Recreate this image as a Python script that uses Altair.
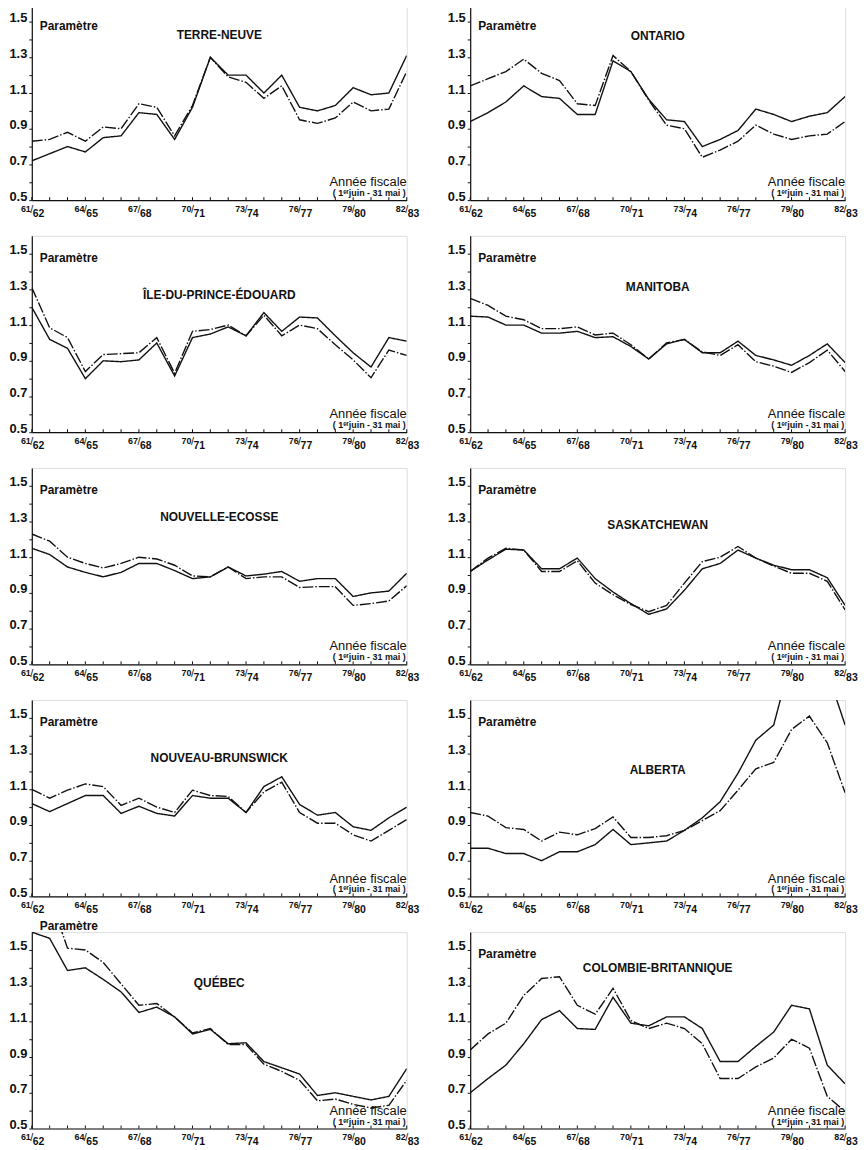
import altair as alt
import pandas as pd

# ---------------- data ----------------
annees = ["61/62", "62/63", "63/64", "64/65", "65/66", "66/67", "67/68", "68/69",
          "69/70", "70/71", "71/72", "72/73", "73/74", "74/75", "75/76", "76/77",
          "77/78", "78/79", "79/80", "80/81", "81/82", "82/83"]
etiquettes_x = ["61/62", "64/65", "67/68", "70/71", "73/74", "76/77", "79/80", "82/83"]
graduations_y = [0.5, 0.6, 0.7, 0.8, 0.9, 1.0, 1.1, 1.2, 1.3, 1.4, 1.5]

provinces = ["TERRE-NEUVE", "ONTARIO", "ÎLE-DU-PRINCE-ÉDOUARD", "MANITOBA",
             "NOUVELLE-ECOSSE", "SASKATCHEWAN", "NOUVEAU-BRUNSWICK", "ALBERTA",
             "QUÉBEC", "COLOMBIE-BRITANNIQUE"]

tn_plein = [0.72, 0.76, 0.80, 0.77, 0.85, 0.86, 0.99, 0.98, 0.84, 1.02, 1.30,
            1.20, 1.20, 1.10, 1.20, 1.02, 1.00, 1.03, 1.13, 1.09, 1.10, 1.31]
tn_tirets = [0.83, 0.84, 0.88, 0.83, 0.91, 0.90, 1.04, 1.02, 0.86, 1.03, 1.30,
             1.19, 1.16, 1.07, 1.14, 0.95, 0.93, 0.96, 1.05, 1.00, 1.01, 1.22]

on_plein = [0.94, 0.99, 1.05, 1.14, 1.08, 1.07, 0.98, 0.98, 1.28, 1.22, 1.065,
            0.95, 0.94, 0.80, 0.84, 0.89, 1.01, 0.98, 0.94, 0.97, 0.99, 1.08]
on_tirets = [1.14, 1.18, 1.22, 1.29, 1.21, 1.17, 1.04, 1.03, 1.31, 1.22, 1.06,
             0.92, 0.90, 0.74, 0.78, 0.83, 0.92, 0.87, 0.84, 0.86, 0.87, 0.94]

ipe_plein = [1.20, 1.02, 0.97, 0.80, 0.90, 0.895, 0.905, 1.00, 0.815, 1.03, 1.05,
             1.09, 1.04, 1.17, 1.065, 1.145, 1.14, 1.04, 0.945, 0.865, 1.03, 1.01]
ipe_tirets = [1.31, 1.085, 1.03, 0.84, 0.935, 0.94, 0.945, 1.03, 0.83, 1.065, 1.075,
              1.10, 1.04, 1.155, 1.04, 1.10, 1.08, 0.99, 0.905, 0.805, 0.96, 0.93]

man_plein = [1.15, 1.145, 1.10, 1.10, 1.055, 1.055, 1.065, 1.03, 1.035, 0.98, 0.91,
             0.995, 1.02, 0.945, 0.945, 1.01, 0.93, 0.905, 0.875, 0.93, 0.995, 0.89]
man_tirets = [1.25, 1.21, 1.15, 1.13, 1.08, 1.08, 1.09, 1.045, 1.055, 0.99, 0.91,
              1.00, 1.02, 0.95, 0.93, 0.99, 0.895, 0.87, 0.835, 0.89, 0.96, 0.84]

ne_plein = [1.15, 1.115, 1.045, 1.015, 0.99, 1.015, 1.065, 1.065, 1.025, 0.98, 0.99,
            1.045, 0.995, 1.005, 1.02, 0.965, 0.98, 0.98, 0.88, 0.90, 0.91, 1.01]
ne_tirets = [1.23, 1.19, 1.10, 1.065, 1.04, 1.065, 1.10, 1.09, 1.055, 0.995, 0.99,
             1.045, 0.98, 0.99, 0.99, 0.93, 0.935, 0.935, 0.83, 0.84, 0.855, 0.94]

sk_plein = [1.02, 1.085, 1.145, 1.14, 1.035, 1.035, 1.095, 0.98, 0.905, 0.84, 0.78,
            0.81, 0.915, 1.035, 1.065, 1.14, 1.095, 1.055, 1.03, 1.03, 0.985, 0.83]
sk_tirets = [1.02, 1.095, 1.15, 1.14, 1.02, 1.02, 1.08, 0.955, 0.89, 0.835, 0.795,
             0.83, 0.955, 1.075, 1.10, 1.16, 1.095, 1.05, 1.01, 1.01, 0.965, 0.805]

nb_plein = [1.02, 0.975, 1.02, 1.065, 1.065, 0.965, 1.005, 0.965, 0.95, 1.065, 1.05,
            1.05, 0.97, 1.115, 1.17, 1.015, 0.955, 0.97, 0.89, 0.87, 0.94, 1.00]
nb_tirets = [1.10, 1.05, 1.095, 1.13, 1.115, 1.01, 1.05, 1.00, 0.97, 1.095, 1.065,
             1.06, 0.97, 1.085, 1.14, 0.97, 0.91, 0.91, 0.845, 0.81, 0.87, 0.93]

alb_plein = [0.77, 0.77, 0.74, 0.74, 0.70, 0.75, 0.75, 0.79, 0.875, 0.79, 0.80,
             0.81, 0.87, 0.94, 1.03, 1.19, 1.375, 1.46, 1.84, 1.90, 1.76, 1.46]
alb_tirets = [0.97, 0.95, 0.885, 0.875, 0.81, 0.86, 0.845, 0.88, 0.945, 0.83, 0.83,
              0.84, 0.87, 0.925, 0.98, 1.095, 1.215, 1.25, 1.435, 1.51, 1.36, 1.08]

qc_plein = [1.60, 1.565, 1.385, 1.40, 1.335, 1.265, 1.15, 1.18, 1.125, 1.03, 1.055,
            0.975, 0.98, 0.875, 0.84, 0.805, 0.685, 0.70, 0.68, 0.66, 0.68, 0.835]
qc_tirets = [1.85, 1.80, 1.51, 1.50, 1.43, 1.31, 1.19, 1.20, 1.125, 1.035, 1.06,
             0.97, 0.97, 0.86, 0.82, 0.77, 0.655, 0.665, 0.635, 0.615, 0.63, 0.77]

cb_plein = [0.70, 0.78, 0.855, 0.975, 1.11, 1.16, 1.06, 1.055, 1.235, 1.09, 1.075,
            1.125, 1.125, 1.06, 0.875, 0.875, 0.96, 1.04, 1.19, 1.17, 0.855, 0.75]
cb_tirets = [0.94, 1.03, 1.09, 1.245, 1.34, 1.35, 1.19, 1.14, 1.285, 1.105, 1.06,
             1.09, 1.06, 0.975, 0.78, 0.78, 0.845, 0.895, 1.00, 0.95, 0.68, 0.595]

series = {
    "TERRE-NEUVE": (tn_plein, tn_tirets),
    "ONTARIO": (on_plein, on_tirets),
    "ÎLE-DU-PRINCE-ÉDOUARD": (ipe_plein, ipe_tirets),
    "MANITOBA": (man_plein, man_tirets),
    "NOUVELLE-ECOSSE": (ne_plein, ne_tirets),
    "SASKATCHEWAN": (sk_plein, sk_tirets),
    "NOUVEAU-BRUNSWICK": (nb_plein, nb_tirets),
    "ALBERTA": (alb_plein, alb_tirets),
    "QUÉBEC": (qc_plein, qc_tirets),
    "COLOMBIE-BRITANNIQUE": (cb_plein, cb_tirets),
}

# ---------------- layout (pixels) ----------------
W, H = 378, 198
FONT = "Liberation Sans"
INK = "#111111"
TITRE_Y = {"TERRE-NEUVE": 32, "ONTARIO": 33, "ÎLE-DU-PRINCE-ÉDOUARD": 60,
           "MANITOBA": 52, "NOUVELLE-ECOSSE": 50, "SASKATCHEWAN": 58,
           "NOUVEAU-BRUNSWICK": 58, "ALBERTA": 71, "QUÉBEC": 51,
           "COLOMBIE-BRITANNIQUE": 36}
PARAM_Y = {"QUÉBEC": -6}

x_enc = alt.X("annee:O", sort=annees,
              scale=alt.Scale(type="point", domain=annees, padding=0),
              axis=alt.Axis(title=None, labels=False, ticks=False, grid=False,
                            domain=True, domainColor=INK, domainWidth=1.2))

lab_df = pd.DataFrame({
    "annee": etiquettes_x,
    "haut": [e.split("/")[0] for e in etiquettes_x],
    "bas": [e.split("/")[1] for e in etiquettes_x],
})
ticks_df = pd.DataFrame({"annee": annees})


def panel(nom):
    plein, tirets = series[nom]
    df = pd.DataFrame({
        "annee": annees * 2,
        "valeur": plein + tirets,
        "serie": ["plein"] * len(annees) + ["tirets"] * len(annees),
    })
    lines = alt.Chart(df).mark_line(clip=True, color=INK, strokeWidth=1.4).encode(
        x=x_enc,
        y=alt.Y("valeur:Q",
                scale=alt.Scale(domain=[0.5, 1.6], nice=False, zero=False),
                axis=alt.Axis(title=None, values=graduations_y, grid=False,
                              labelExpr="(round(datum.value*10) % 2 == 1) ? format(datum.value, '.1f') : ''",
                              tickSize=3, tickColor=INK, domainColor=INK, domainWidth=1.2,
                              labelFont=FONT, labelFontSize=13, labelFontWeight="bold",
                              labelColor=INK, labelPadding=2, labelBaseline="alphabetic",
                              labelOffset=0)),
        strokeDash=alt.StrokeDash("serie:N",
                                  scale=alt.Scale(domain=["plein", "tirets"],
                                                  range=[[1, 0], [11, 2, 1.5, 2]]),
                                  legend=None),
    )
    xticks = alt.Chart(ticks_df).mark_rule(color=INK, strokeWidth=1).encode(
        x=x_enc, y=alt.value(H), y2=alt.value(H - 3))
    haut = alt.Chart(lab_df).mark_text(
        align="right", baseline="middle", dx=-1, font=FONT, fontSize=9,
        fontWeight="bold", color=INK).encode(x=x_enc, y=alt.value(H + 9), text="haut:N")
    slash = alt.Chart(lab_df).mark_text(
        align="center", baseline="middle", font=FONT, fontSize=11,
        color=INK).encode(x=x_enc, y=alt.value(H + 10), text=alt.value("/"))
    bas = alt.Chart(lab_df).mark_text(
        align="left", baseline="middle", dx=1, font=FONT, fontSize=10.5,
        fontWeight="bold", color=INK).encode(x=x_enc, y=alt.value(H + 14), text="bas:N")

    def label(txt, x, y, align, size, weight):
        return alt.Chart(alt.Data(values=[{"t": txt}])).mark_text(
            align=align, baseline="middle", font=FONT, fontSize=size,
            fontWeight=weight, color=INK).encode(
            x=alt.value(x), y=alt.value(y), text="t:N")

    param = label("Paramètre", 8, PARAM_Y.get(nom, 22), "left", 12, "bold")
    titre = label(nom, W / 2, TITRE_Y[nom], "center", 12, "bold")
    annee_f = label("Année fiscale", W, H - 18, "right", 13, "normal")
    periode = label("( 1ᵉʳjuin - 31 mai )", W - 1, H - 7, "right", 9, "bold")

    return alt.layer(lines, xticks, haut, slash, bas, param, titre, annee_f,
                     periode).properties(width=W, height=H)


chart = alt.concat(*[panel(p) for p in provinces], columns=2,
                   spacing={"row": 36, "column": 64}, bounds="flush").properties(
    padding={"top": -10, "left": 0, "right": 0, "bottom": 0}
).configure_view(stroke=None).configure(background="white")

chart.save("out.html", embed_options={"renderer": "svg", "actions": False})
